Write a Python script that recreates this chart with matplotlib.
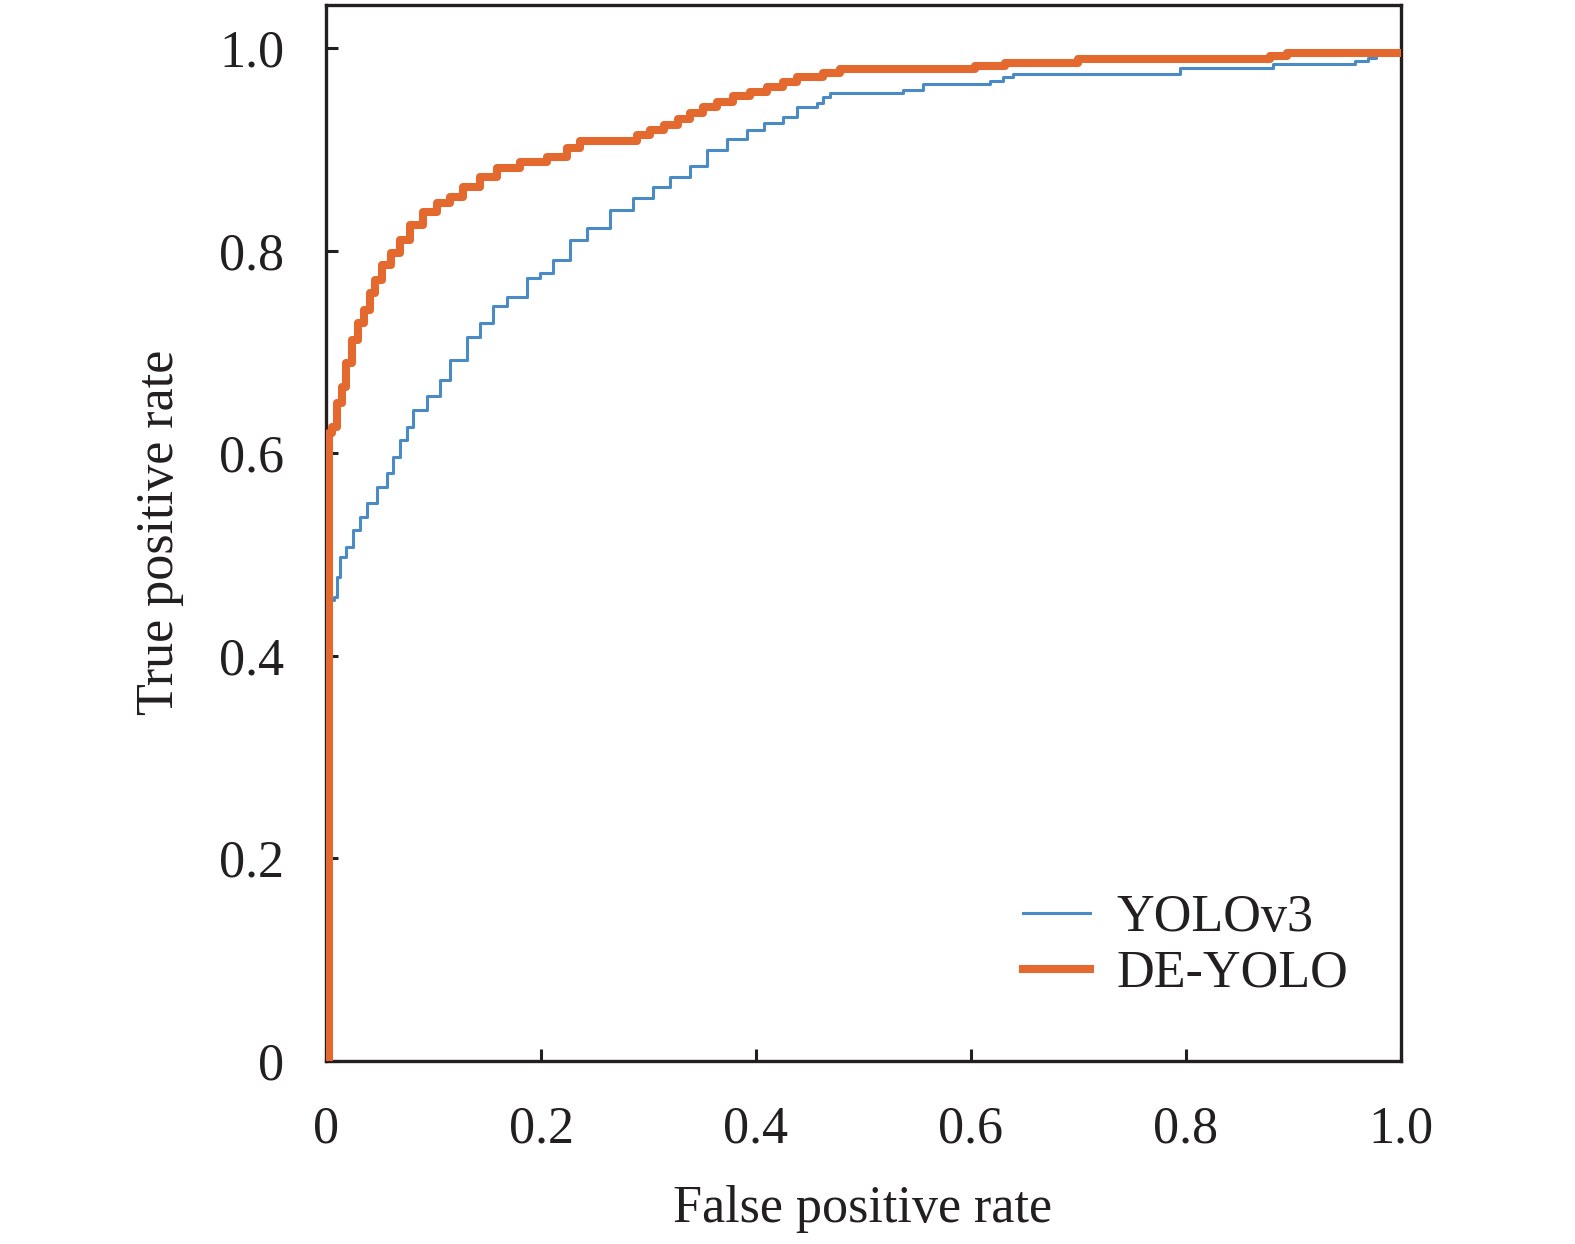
import matplotlib
matplotlib.use('Agg')
import matplotlib.pyplot as plt

plt.rcParams['font.family'] = ['Liberation Serif', 'DejaVu Serif']

# ROC curve corners (fpr, tpr)
yolo_fpr = [0.004, 0.004, 0.007, 0.010, 0.013, 0.019, 0.025, 0.032, 0.038, 0.047,
            0.057, 0.062, 0.069, 0.075, 0.081, 0.094, 0.106, 0.115, 0.131, 0.143,
            0.155, 0.168, 0.187, 0.199, 0.211, 0.227, 0.243, 0.264, 0.286, 0.304,
            0.320, 0.339, 0.354, 0.373, 0.392, 0.407, 0.425, 0.438, 0.457, 0.462,
            0.469, 0.537, 0.555, 0.618, 0.630, 0.639, 0.794, 0.881, 0.957, 0.969,
            0.977, 1.0]
yolo_tpr = [0.0, 0.455, 0.458, 0.478, 0.498, 0.507, 0.524, 0.537, 0.551, 0.567,
            0.580, 0.596, 0.613, 0.626, 0.643, 0.656, 0.672, 0.692, 0.715, 0.729,
            0.745, 0.754, 0.773, 0.778, 0.791, 0.810, 0.822, 0.840, 0.852, 0.863,
            0.873, 0.884, 0.899, 0.910, 0.919, 0.926, 0.932, 0.942, 0.946, 0.952,
            0.956, 0.959, 0.964, 0.967, 0.971, 0.974, 0.980, 0.984, 0.987, 0.990,
            0.995, 0.996]

de_fpr = [0.003, 0.003, 0.0056, 0.010, 0.015, 0.019, 0.024, 0.030, 0.035, 0.041,
          0.046, 0.052, 0.060, 0.069, 0.078, 0.090, 0.103, 0.115, 0.127, 0.143,
          0.159, 0.180, 0.206, 0.224, 0.236, 0.289, 0.301, 0.314, 0.327, 0.339,
          0.351, 0.364, 0.379, 0.394, 0.410, 0.425, 0.438, 0.462, 0.478, 0.604,
          0.632, 0.700, 0.878, 0.894, 1.0]
de_tpr = [0.0, 0.620, 0.626, 0.650, 0.665, 0.689, 0.712, 0.729, 0.741, 0.758,
          0.771, 0.786, 0.798, 0.810, 0.825, 0.838, 0.847, 0.853, 0.863, 0.873,
          0.882, 0.887, 0.892, 0.901, 0.908, 0.914, 0.919, 0.924, 0.930, 0.936,
          0.942, 0.947, 0.953, 0.957, 0.962, 0.966, 0.971, 0.975, 0.979, 0.982,
          0.985, 0.989, 0.992, 0.995, 0.995]

ticks = [0, 0.2, 0.4, 0.6, 0.8, 1.0]
tick_labels = ['0', '0.2', '0.4', '0.6', '0.8', '1.0']

fs = 37.5
fig = plt.figure(figsize=(15.75, 12.44), dpi=100)
ax = fig.add_axes([0.2070, 0.1471, 0.6825, 0.8489])

ax.plot(yolo_fpr, yolo_tpr, drawstyle='steps-post', color='#4a8bc7', lw=2.2,
        label='YOLOv3', zorder=2)
ax.plot(de_fpr, de_tpr, drawstyle='steps-post', color='#e4692f', lw=5.8,
        label='DE-YOLO', zorder=3)

ax.set_xlim(0, 1.0)
ax.set_ylim(0, 1.0425)
ax.set_xticks(ticks)
ax.set_xticklabels(tick_labels)
ax.set_yticks(ticks)
ax.set_yticklabels(tick_labels)
ax.tick_params(direction='in', length=8.6, width=2.2, labelsize=fs,
               color='#231f20', labelcolor='#231f20')
ax.tick_params(axis='y', pad=30)
ax.tick_params(axis='x', pad=32)
for s in ax.spines.values():
    s.set_linewidth(2.4)
    s.set_color('#231f20')

ax.set_xlabel('False positive rate', fontsize=fs, color='#231f20')
ax.set_ylabel('True positive rate', fontsize=fs, color='#231f20')
ax.xaxis.set_label_coords(0.499, -0.117)
ax.yaxis.set_label_coords(-0.132, 0.501)

ax.legend(loc='upper left', bbox_to_anchor=(0.648, 0.158), frameon=False,
          fontsize=fs, handlelength=1.3, handletextpad=0.5, labelspacing=0.15,
          borderpad=0, borderaxespad=0, labelcolor='#231f20')

fig.savefig('out.png', dpi=100)
